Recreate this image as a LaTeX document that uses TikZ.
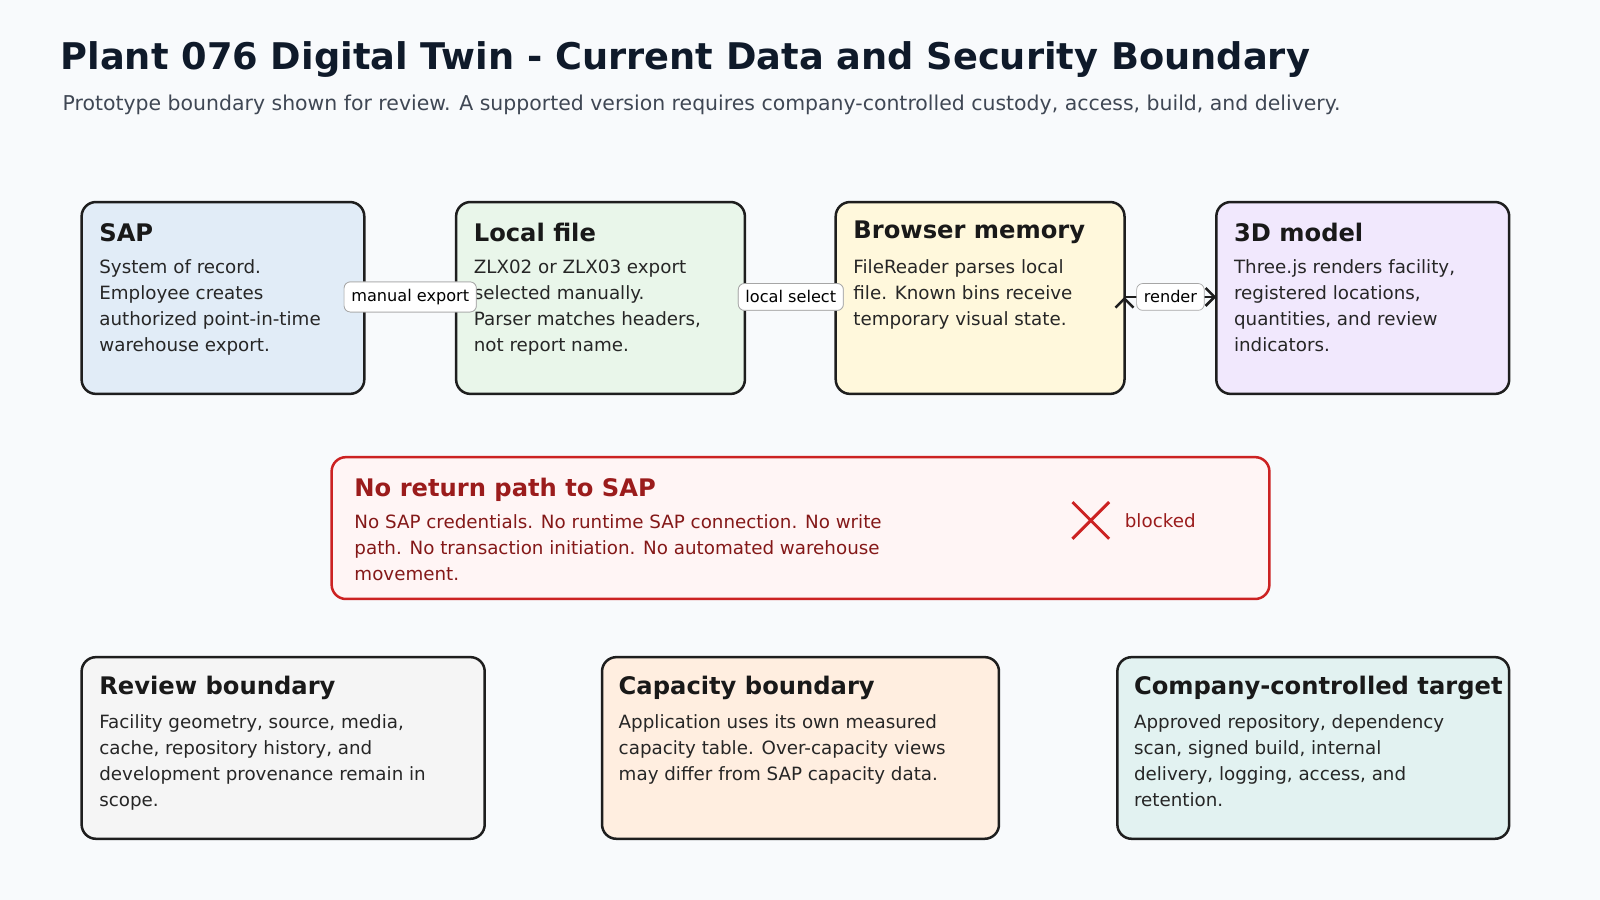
\documentclass[tikz,border=0pt]{standalone}
\usepackage{fontspec}
\setmainfont{DejaVu Sans}
\usetikzlibrary{positioning,arrows.meta}
\definecolor{bgc}{HTML}{F8FAFC}
\definecolor{inkc}{HTML}{0F1A2A}
\definecolor{subc}{HTML}{3F4754}
\definecolor{edgec}{HTML}{1E1E1E}
\definecolor{sapc}{HTML}{E1ECF7}
\definecolor{filec}{HTML}{E9F6EA}
\definecolor{memc}{HTML}{FFF8DC}
\definecolor{modc}{HTML}{F1E8FD}
\definecolor{revc}{HTML}{F5F5F5}
\definecolor{capc}{HTML}{FFEEE0}
\definecolor{tgtc}{HTML}{E2F2F1}
\definecolor{stopc}{HTML}{FFF5F5}
\definecolor{stopline}{HTML}{CC2222}
\definecolor{stopink}{HTML}{9B1C1C}
\begin{document}
\begin{tikzpicture}[x=0.02cm,y=-0.02cm]
          \tikzstyle{stage} = [draw=edgec, line width=1.4pt, rounded corners=0.28cm];
          \tikzstyle{head} = [anchor=west, inner sep=0pt, font=\fontsize{13.5}{16}\selectfont\bfseries, text=black!90];
          \tikzstyle{body} = [anchor=north west, inner sep=0pt, align=left, font=\fontsize{10.2}{14.5}\selectfont, text=black!85];
          \tikzstyle{tag} = [draw=black!35, fill=white, rounded corners=0.12cm, inner sep=4pt, font=\fontsize{9}{11}\selectfont];
          \fill[bgc] (0,0) rectangle (1568,882);
          % title
          \node[anchor=west, inner sep=0pt, text=inkc, font=\fontsize{20.5}{24}\selectfont\bfseries] (title) at (59,58) {Plant 076 Digital Twin - Current Data and Security Boundary};
          \node[anchor=west, inner sep=0pt, text=subc, font=\fontsize{11.4}{14}\selectfont] (sub) at (61,103) {Prototype boundary shown for review. A supported version requires company-controlled custody, access, build, and delivery.};
          % top row
          \draw[stage, fill=sapc] (80,198) rectangle (357,386);
          \draw[stage, fill=filec] (447,198) rectangle (730,386);
          \draw[stage, fill=memc] (819,198) rectangle (1102,386);
          \draw[stage, fill=modc] (1192,198) rectangle (1479,386);
          \coordinate (sapE) at (357,291); \coordinate (fileW) at (447,291);
          \coordinate (fileE) at (730,291); \coordinate (memW) at (819,291);
          \coordinate (memE) at (1102,291); \coordinate (modW) at (1192,291);
          \path[draw=edgec, line width=1.4pt, -{Straight Barb[length=5pt]}]
          (sapE) edge (fileW)
          (fileE) edge (memW)
          (memE) edge (modW);
          \node[tag] (t1) at (402,291) {manual export};
          \node[tag] (t2) at (775,291) {local select};
          \node[tag] (t3) at (1147,291) {render};
          \node[head] (h1) at (97,228) {SAP};
          \node[body] (b1) at (97,254) {System of record.\\Employee creates\\authorized point-in-time\\warehouse export.};
          \node[head] (h2) at (464,228) {Local file};
          \node[body] (b2) at (464,254) {ZLX02 or ZLX03 export\\selected manually.\\Parser matches headers,\\not report name.};
          \node[head] (h3) at (836,228) {Browser memory};
          \node[body] (b3) at (836,254) {FileReader parses local\\file. Known bins receive\\temporary visual state.};
          \node[head] (h4) at (1209,228) {3D model};
          \node[body] (b4) at (1209,254) {Three.js renders facility,\\registered locations,\\quantities, and review\\indicators.};
          \node[tag] at (402,291) {manual export};
          \node[tag] at (775,291) {local select};
          % blocked path
          \draw[draw=stopline, line width=1.4pt, rounded corners=0.28cm, fill=stopc] (325,448) rectangle (1244,587);
          \node[head, text=stopink] (h5) at (347,480) {No return path to SAP};
          \node[body, text=stopink!85!black] (b5) at (347,504) {No SAP credentials. No runtime SAP connection. No write\\path. No transaction initiation. No automated warehouse\\movement.};
          \draw[stopline, line width=1.6pt] (1051,492) -- (1087,528) (1051,528) -- (1087,492);
          \node[anchor=west, inner sep=0pt, text=stopink, font=\fontsize{10.2}{12}\selectfont] (bl) at (1102,510) {blocked};
          % bottom row
          \draw[stage, fill=revc] (80,644) rectangle (475,822);
          \draw[stage, fill=capc] (590,644) rectangle (979,822);
          \draw[stage, fill=tgtc] (1095,644) rectangle (1479,822);
          \node[head] (h6) at (97,674) {Review boundary};
          \node[body] (b6) at (97,700) {Facility geometry, source, media,\\cache, repository history, and\\development provenance remain in\\scope.};
          \node[head] (h7) at (606,674) {Capacity boundary};
          \node[body] (b7) at (606,700) {Application uses its own measured\\capacity table. Over-capacity views\\may differ from SAP capacity data.};
          \node[head] (h8) at (1111,674) {Company-controlled target};
          \node[body] (b8) at (1111,700) {Approved repository, dependency\\scan, signed build, internal\\delivery, logging, access, and\\retention.};
          \end{tikzpicture}
\end{document}
